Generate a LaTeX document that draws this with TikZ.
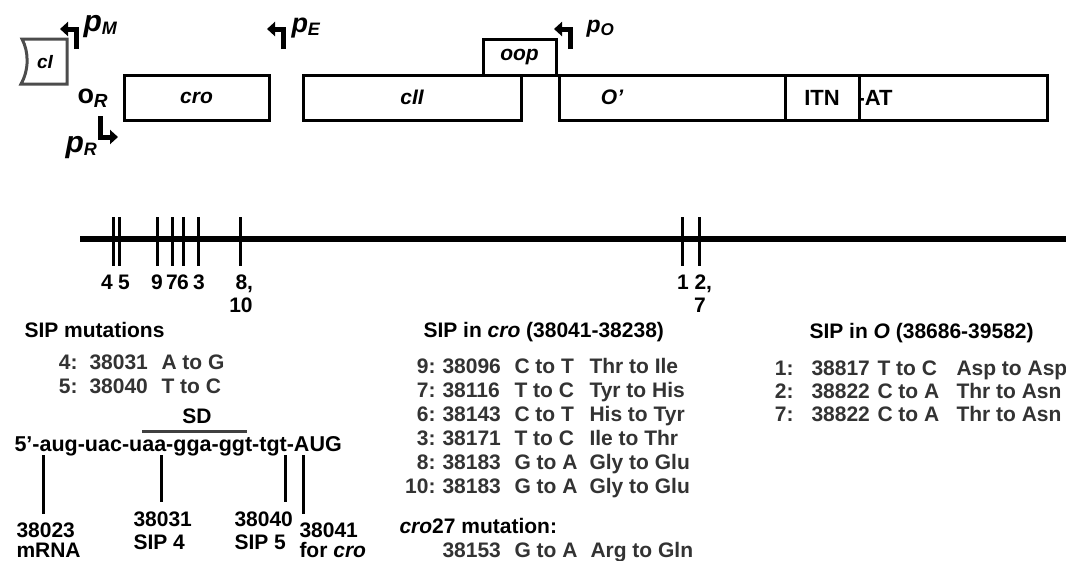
\documentclass[tikz,border=0pt]{standalone}
\usepackage{fontspec}
\setmainfont{Liberation Sans}
\usetikzlibrary{arrows.meta}

\newcommand{\pname}[3]{{\fontsize{#1}{#1}\selectfont\bfseries\itshape p}\raisebox{-3pt}{\fontsize{#2}{#2}\selectfont\bfseries\itshape #3}}

\begin{document}
\begin{tikzpicture}[x=1pt,y=-1pt,line width=3pt,
  gene/.style={draw,line width=3pt,minimum height=45pt,inner sep=0pt,font=\fontsize{21}{21}\selectfont\bfseries\itshape},
  glab/.style={inner sep=0pt,font=\fontsize{21}{21}\selectfont\bfseries\itshape},
  prom/.style={line width=5pt,-{Triangle[length=8pt,width=14pt]}},
  tab/.style={anchor=base west,inner sep=0pt,text=black!80,font=\fontsize{21}{21}\selectfont\bfseries},
  head/.style={anchor=base west,inner sep=0pt,font=\fontsize{21}{21}\selectfont\bfseries},
  num/.style={anchor=base,inner sep=0pt,font=\fontsize{21}{21}\selectfont\bfseries}]
  \useasboundingbox (0,0) rectangle (1066,560);

  % genes
  \draw[black!70] (67,39) -- (22,39) .. controls (29,52) and (29,70) .. (21,84) -- (67,84) -- cycle;
  \node[glab,font=\fontsize{19}{19}\selectfont\bfseries\itshape] (cI) at (45,62) {cI};
  \node[gene,minimum width=145pt] (cro) at (196.5,97.5) {cro};
  \node[gene,minimum width=218pt] (cII) at (412,97.5) {cII};
  \node[gene,minimum width=73pt,minimum height=36pt] (oop) at (519.5,57) {oop};
  \node[gene,minimum width=226pt] (O) at (672,97.5) {};
  \node[glab] (Olab) at (612,97.5) {O’};
  \node[gene,minimum width=74pt,font=\fontsize{22}{22}\selectfont\bfseries] (ITN) at (822,97.5) {ITN};
  \node[gene,minimum width=188pt] (AT) at (953,97.5) {};
  \node[glab,anchor=west,font=\fontsize{22}{22}\selectfont\bfseries] (ATlab) at (856,97.5) {-AT};

  % promoters
  \draw[prom] (76,49) |- (60,29);
  \draw[prom] (283,49) |- (267,29);
  \draw[prom] (570,49) |- (554,29);
  \draw[prom] (100,116) |- (118,137);
  \node[anchor=base west,inner sep=0pt] (pM) at (82,31) {\pname{30}{18}{M}};
  \node[anchor=base west,inner sep=0pt] (pE) at (290,32) {\pname{27}{18}{E}};
  \node[anchor=base west,inner sep=0pt] (pO) at (585,32) {\pname{23}{17}{O}};
  \node[anchor=base west,inner sep=0pt] (pR) at (64,152) {\pname{30}{18}{R}};
  \node[anchor=base west,inner sep=0pt] (oR) at (76,103) {{\fontsize{27}{27}\selectfont\bfseries o}\raisebox{-4pt}{\fontsize{19}{19}\selectfont\bfseries\itshape R}};

  % map
  \draw[line width=5.5pt] (80,239) -- (1070,239);
  \foreach \x in {113,119,157,172,183,198,240,682,699}
    \draw (\x,217) -- (\x,266);
  \foreach \x/\t in {107/4,124/5,157/9,172/7,183/6,199/3,683/1}
    \node[num] (m\t) at (\x,289) {\t};
  \node[num,anchor=base west] (m8) at (234,289) {8,};
  \node[num] (m10) at (241,312) {10};
  \node[num,anchor=base west] (m2) at (693,289) {2,};
  \node[num] (m7) at (700,312) {7};

  % SIP mutations
  \node[head] (hsip) at (23,337) {SIP mutations};
  \foreach \n/\p/\c [count=\i] in {4/38031/A to G,5/38040/T to C} {
    \node[tab,anchor=base east] (ln\i) at (79,{345+24*\i}) {\n:};
    \node[tab] (lp\i) at (88,{345+24*\i}) {\p};
    \node[tab] (lc\i) at (160,{345+24*\i}) {\c};
  }
  \node[num] (sd) at (197,423) {SD};
  \draw[black!75] (142,431) -- (247,431);
  \node[head,font=\fontsize{21.5}{21.5}\selectfont\bfseries] (seq) at (13,451) {5’-aug-uac-uaa-gga-ggt-tgt-AUG};
  \node[head] (s1a) at (15,537) {38023};
  \node[head] (s1b) at (15,557) {mRNA};
  \node[head] (s2a) at (132,526) {38031};
  \node[head] (s2b) at (132,549) {SIP 4};
  \node[head] (s3a) at (233,526) {38040};
  \node[head] (s3b) at (233,549) {SIP 5};
  \node[head] (s4a) at (298,537) {38041};
  \node[head] (s4b) at (298,557) {for \textit{cro}};
  \coordinate (t1) at (43,455);
  \coordinate (t2) at (161,455);
  \coordinate (t3) at (285,455);
  \coordinate (t4) at (303,455);
  \draw (t1) -- ([yshift=7pt]t1 |- s1a.north);
  \draw (t2) -- ([yshift=8pt]t2 |- s2a.north);
  \draw (t3) -- ([yshift=8pt]t3 |- s3a.north);
  \draw (t4) -- ([yshift=7pt]t4 |- s4a.north);

  % SIP in cro
  \node[head] (hcro) at (422,337) {SIP in \textit{cro} (38041-38238)};
  \foreach \n/\p/\c/\a [count=\i] in {9/38096/C to T/Thr to Ile,7/38116/T to C/Tyr to His,
      6/38143/C to T/His to Tyr,3/38171/T to C/Ile to Thr,8/38183/G to A/Gly to Glu,10/38183/G to A/Gly to Glu} {
    \node[tab,anchor=base east] (cn\i) at (437,{349+24*\i}) {\n:};
    \node[tab] (cp\i) at (441,{349+24*\i}) {\p};
    \node[tab] (cc\i) at (513,{349+24*\i}) {\c};
    \node[tab] (ca\i) at (588,{349+24*\i}) {\a};
  }
  \node[head] (h27) at (398,533) {\textit{cro}27 mutation:};
  \node[tab] (p27) at (441,557) {38153};
  \node[tab] (c27) at (513,557) {G to A};
  \node[tab] (a27) at (589,557) {Arg to Gln};

  % SIP in O
  \node[head] (hO) at (808,338) {SIP in \textit{O} (38686-39582)};
  \foreach \n/\p/\c/\a [count=\i] in {1/38817/T to C/Asp to Asp,2/38822/C to A/Thr to Asn,7/38822/C to A/Thr to Asn} {
    \node[tab,anchor=base east] (on\i) at (795,{352+23*\i}) {\n:};
    \node[tab] (op\i) at (810,{352+23*\i}) {\p};
    \node[tab] (oc\i) at (876,{352+23*\i}) {\c};
    \node[tab] (oa\i) at (955,{352+23*\i}) {\a};
  }
\end{tikzpicture}
\end{document}
